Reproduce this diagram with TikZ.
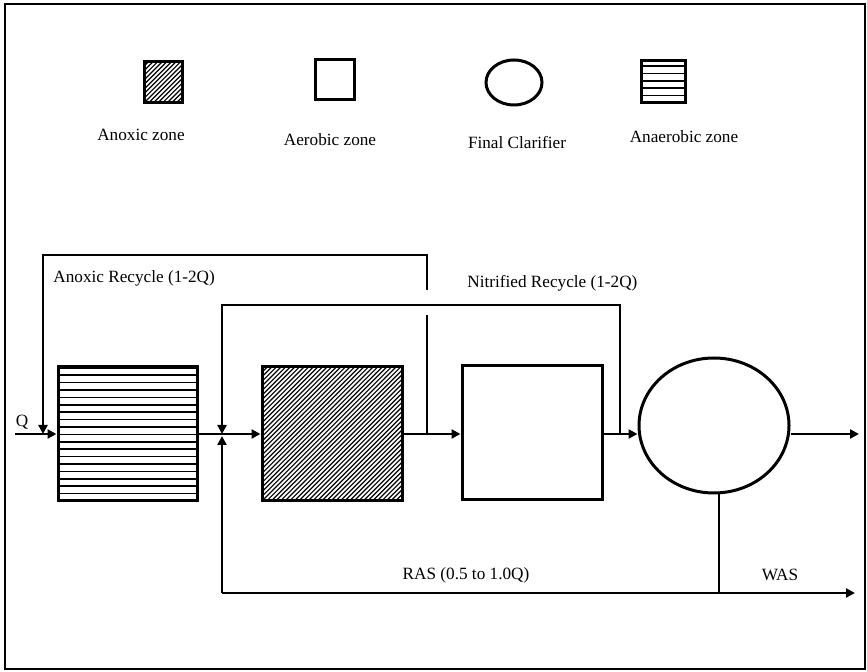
\documentclass[tikz,border=0pt]{standalone}
\usepackage{fontspec}
\setmainfont{Liberation Serif}
\usetikzlibrary{arrows.meta,shapes.geometric}
\begin{document}
\begin{tikzpicture}[x=0.5pt,y=-0.5pt,
  every node/.style={font=\fontsize{8.6}{10}\selectfont},
  zone/.style={draw, line width=1.5pt, inner sep=0pt, rectangle},
  clarshape/.style={draw, line width=1.5pt, inner sep=0pt, ellipse},
  anoxhatch/.style={path picture={\foreach \i in {-45,...,45} \draw[line width=0.6pt] ([xshift=\i*2.3pt]path picture bounding box.south west) -- ++(90pt,90pt);}},
  anaerohatch/.style={path picture={\foreach \j in {1,...,20} \draw[line width=0.75pt] ([yshift=\j*3.7pt]path picture bounding box.south west) -- ++(90pt,0pt);}},
  pipe/.style={line width=1.2pt},
  flow/.style={line width=1.2pt, -{Triangle[length=4.5pt,width=4.5pt]}},
  lab/.style={inner sep=0pt}
]
\useasboundingbox (0,0) rectangle (867,672);
\draw[line width=1.3pt] (5,4) rectangle (865,669);

% legend
\node[zone, anoxhatch, minimum width=19pt, minimum height=20.5pt] (lgAnox) at (163,82.5) {};
\node[zone, minimum width=19.5pt, minimum height=20pt] (lgAer) at (334.5,80) {};
\node[clarshape, minimum width=28pt, minimum height=22.5pt] (lgClar) at (514,82.5) {};
\node[zone, anaerohatch, minimum width=22pt, minimum height=21pt] (lgAna) at (663,82) {};
\node[lab] (tAnox) at (141,135) {Anoxic zone};
\node[lab] (tAer) at (330,140) {Aerobic zone};
\node[lab] (tClar) at (517,143) {Final Clarifier};
\node[lab] (tAna) at (684,137) {Anaerobic zone};

% process units
\node[zone, anaerohatch, minimum width=69.5pt, minimum height=67pt] (ana) at (127.5,434) {};
\node[zone, anoxhatch, minimum width=70pt, minimum height=67pt] (anox) at (332,434) {};
\node[zone, minimum width=70pt, minimum height=67pt] (aer) at (532,433) {};
\node[clarshape, minimum width=75pt, minimum height=67.5pt] (clar) at (714,425.5) {};

% coordinates
\coordinate (qin) at (15,434);
\coordinate (out) at (859,434);
\coordinate (arA) at (427,434);
\coordinate (arB) at (427,315);
\coordinate (arC) at (427,290);
\coordinate (arD) at (427,255);
\coordinate (arE) at (43,255);
\coordinate (arF) at (43,434);
\coordinate (nrA) at (620,434);
\coordinate (nrB) at (620,305);
\coordinate (nrC) at (222,305);
\coordinate (jn) at (222,434);
\coordinate (rasB) at (222,593);
\coordinate (rasJ) at (719,593);
\coordinate (wasEnd) at (855,593);

% main flow
\draw[flow] (qin) -- (ana.west);
\draw[flow] (ana.east) -- (anox.west);
\draw[flow] (anox.east) -- (aer.west |- anox.east);
\draw[flow] (aer.east |- anox.east) -- (clar.west |- anox.east);
\draw[flow] (clar.east |- out) -- (out);

% anoxic recycle
\draw[pipe] (arA) -- (arB);
\draw[flow] (arC) -- (arD) -- (arE) -- (arF);

% nitrified recycle
\draw[flow] (nrA) -- (nrB) -- (nrC) -- (jn);

% RAS / WAS
\draw[pipe] ([xshift=2.5pt]clar.south) -- (rasJ);
\draw[flow] (rasB) -- ([yshift=-1pt]jn);
\draw[flow] (rasB) -- (wasEnd);

% labels
\node[lab] (qlab) at (22,422) {Q};
\node[lab, anchor=west] (arlab) at (53,278) {Anoxic Recycle (1-2Q)};
\node[lab, anchor=west] (nrlab) at (467,283) {Nitrified Recycle (1-2Q)};
\node[lab] (raslab) at (466,575) {RAS (0.5 to 1.0Q)};
\node[lab] (waslab) at (780,575) {WAS};
\end{tikzpicture}
\end{document}
